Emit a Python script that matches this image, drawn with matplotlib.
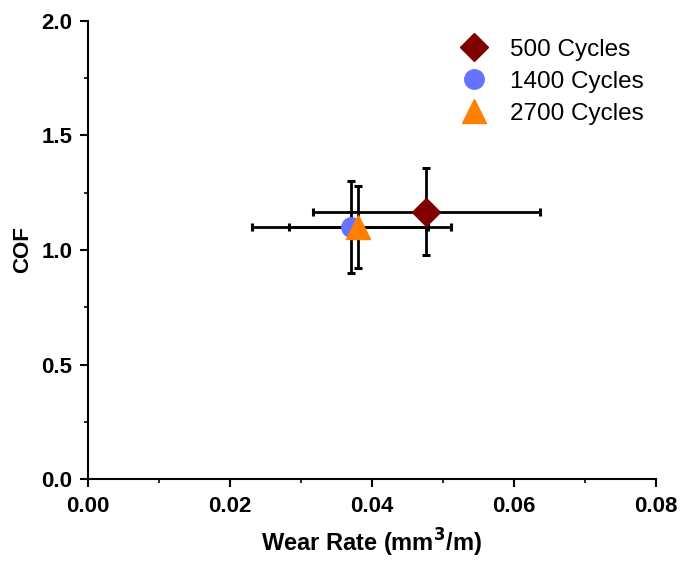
import matplotlib
matplotlib.use('Agg')
import matplotlib.pyplot as plt
from matplotlib.ticker import MultipleLocator

plt.rcParams['font.family'] = ['Liberation Sans', 'DejaVu Sans']

# wear rate / COF for each test length
labels = ['500 Cycles', '1400 Cycles', '2700 Cycles']
wear_rate = [0.0477, 0.0371, 0.0381]
wear_err = [0.016, 0.014, 0.0098]
cof = [1.167, 1.10, 1.10]
cof_err = [0.19, 0.20, 0.18]

markers = ['D', 'o', '^']
colors = ['#800000', '#6673FF', '#FF8000']
sizes = [14, 14, 17]

fig = plt.figure(figsize=(6.81, 5.61), dpi=100)
ax = fig.add_axes([0.129, 0.146, 0.834, 0.817])

for i in range(len(labels)):
    ax.errorbar(wear_rate[i], cof[i], xerr=wear_err[i], yerr=cof_err[i],
                fmt='none', ecolor='black', elinewidth=2, capsize=3,
                capthick=2.2, zorder=2)
for i in range(len(labels)):
    ax.plot(wear_rate[i], cof[i], linestyle='none', marker=markers[i],
            color=colors[i], markersize=sizes[i], label=labels[i], zorder=3)

ax.set_xlim(0, 0.08)
ax.set_ylim(0, 2.0)
ax.xaxis.set_major_locator(MultipleLocator(0.02))
ax.xaxis.set_minor_locator(MultipleLocator(0.01))
ax.yaxis.set_major_locator(MultipleLocator(0.5))
ax.yaxis.set_minor_locator(MultipleLocator(0.25))
ax.xaxis.set_major_formatter(plt.FuncFormatter(lambda v, p: f'{v:.2f}'))
ax.yaxis.set_major_formatter(plt.FuncFormatter(lambda v, p: f'{v:.1f}'))

for s in ['top', 'right']:
    ax.spines[s].set_visible(False)
for s in ['left', 'bottom']:
    ax.spines[s].set_linewidth(1.5)
ax.tick_params(which='major', direction='out', length=6, width=1.5,
               labelsize=16)
ax.tick_params(axis='x', which='major', pad=6)
ax.tick_params(axis='y', which='major', pad=5)
ax.tick_params(which='minor', direction='out', length=3, width=1.2)
for t in ax.get_xticklabels() + ax.get_yticklabels():
    t.set_fontweight('bold')

ax.set_xlabel('Wear Rate (mm$^\\mathbf{3}$/m)', fontsize=17, fontweight='bold',
              labelpad=7)
ax.set_ylabel('COF', fontsize=16, fontweight='bold', labelpad=6)

ax.legend(loc='upper right', bbox_to_anchor=(0.996, 0.982), frameon=False,
          fontsize=17.5, handletextpad=0.9, labelspacing=0.41,
          borderaxespad=0.1, handlelength=1.2, borderpad=0.3)

fig.savefig('out.png', dpi=100)
